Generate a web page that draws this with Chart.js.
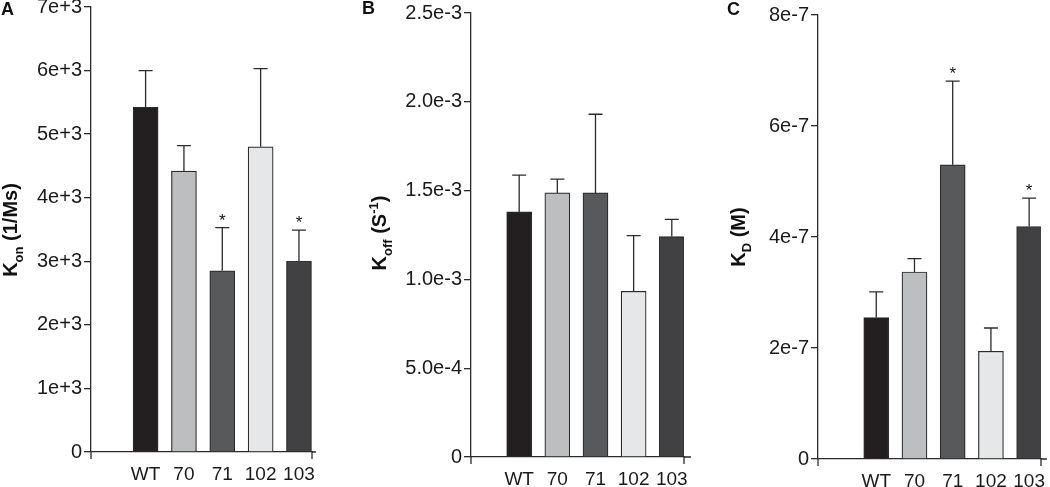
<!DOCTYPE html>
<html>
<head>
<meta charset="utf-8">
<script src="https://cdn.jsdelivr.net/npm/chart.js@4.4.1/dist/chart.umd.min.js"></script>
<style>
  html, body { margin: 0; padding: 0; background: #fff; }
  #wrap { position: relative; width: 1050px; height: 487px; overflow: hidden; }
  .panel { position: absolute; top: 0; width: 350px; height: 487px; }
</style>
</head>
<body>
<div id="wrap">
  <div class="panel" style="left:0"><canvas id="chart-a"></canvas></div>
  <div class="panel" style="left:350px"><canvas id="chart-b"></canvas></div>
  <div class="panel" style="left:700px"><canvas id="chart-c"></canvas></div>
</div>
<script>
(() => {
  "use strict";

  // ── data ───────────────────────────────────────────────────────────────
  const groups = ["WT", "70", "71", "102", "103"];
  const barColors = ["#231f20", "#bcbec0", "#58595b", "#e6e7e8", "#414042"];

  const konMean = [5420, 4420, 2850, 4800, 3000];
  const konSem = [580, 400, 680, 1230, 490];
  const konStar = [false, false, true, false, true];
  const konTicks = [0, 1000, 2000, 3000, 4000, 5000, 6000, 7000];
  const konTickLabels = ["0", "1e+3", "2e+3", "3e+3", "4e+3", "5e+3", "6e+3", "7e+3"];

  const koffMean = [1.38e-3, 1.487e-3, 1.487e-3, 0.933e-3, 1.241e-3];
  const koffSem = [0.207e-3, 0.078e-3, 0.443e-3, 0.314e-3, 0.097e-3];
  const koffStar = [false, false, false, false, false];
  const koffTicks = [0, 5e-4, 1e-3, 1.5e-3, 2e-3, 2.5e-3];
  const koffTickLabels = ["0", "5.0e-4", "1.0e-3", "1.5e-3", "2.0e-3", "2.5e-3"];

  const kdMean = [2.55e-7, 3.37e-7, 5.30e-7, 1.94e-7, 4.19e-7];
  const kdSem = [0.46e-7, 0.24e-7, 1.51e-7, 0.42e-7, 0.51e-7];
  const kdStar = [false, false, true, false, true];
  const kdTicks = [0, 2e-7, 4e-7, 6e-7, 8e-7];
  const kdTickLabels = ["0", "2e-7", "4e-7", "6e-7", "8e-7"];

  const FONT = "'Liberation Sans', Arial, Helvetica, sans-serif";
  const INK = "#2b2b2b";

  // draws text with sub/superscript pieces, rotated to read bottom-to-top
  function drawRotatedRich(ctx, parts, cy, baseX, size) {
    ctx.save();
    ctx.translate(baseX, cy);
    ctx.rotate(-Math.PI / 2);
    ctx.fillStyle = "#111";
    ctx.textBaseline = "alphabetic";
    ctx.textAlign = "left";
    const small = Math.round(size * 0.64);
    let total = 0;
    for (const p of parts) {
      ctx.font = `bold ${p.sub || p.sup ? small : size}px ${FONT}`;
      p.w = ctx.measureText(p.t).width;
      total += p.w;
    }
    let x = -total / 2;
    for (const p of parts) {
      ctx.font = `bold ${p.sub || p.sup ? small : size}px ${FONT}`;
      const dy = p.sub ? size * 0.28 : p.sup ? -size * 0.42 : 0;
      ctx.fillText(p.t, x, dy);
      x += p.w;
    }
    ctx.restore();
  }

  function panelPlugin(cfg) {
    return {
      id: "panelDecor",
      afterDatasetsDraw(chart) {
        const { ctx, chartArea, scales } = chart;
        const xs = scales.x, ys = scales.y;
        ctx.save();
        ctx.strokeStyle = INK;
        ctx.lineWidth = 1.3;

        // error bars (upper only) and significance marks
        cfg.mean.forEach((m, i) => {
          const px = xs.getPixelForValue(i + 1);
          const y0 = ys.getPixelForValue(m);
          const y1 = ys.getPixelForValue(m + cfg.sem[i]);
          ctx.beginPath();
          ctx.moveTo(px, y0);
          ctx.lineTo(px, y1);
          ctx.moveTo(px - 7, y1);
          ctx.lineTo(px + 7, y1);
          ctx.stroke();
          if (cfg.star[i]) {
            ctx.fillStyle = "#111";
            ctx.font = `17px ${FONT}`;
            ctx.textAlign = "center";
            ctx.textBaseline = "alphabetic";
            ctx.fillText("*", px, y1 - 2);
          }
        });

        // end ticks and overhang on the x axis
        const b = chartArea.bottom;
        ctx.beginPath();
        ctx.moveTo(chartArea.left, b);
        ctx.lineTo(chartArea.left, b + 7);
        ctx.moveTo(chartArea.right, b);
        ctx.lineTo(chartArea.right, b + 7);
        ctx.moveTo(chartArea.right, b);
        ctx.lineTo(chartArea.right + cfg.overhang, b);
        ctx.stroke();
        ctx.restore();

        drawRotatedRich(ctx, cfg.title, cfg.titleY, cfg.titleX, 20);

        ctx.save();
        ctx.fillStyle = "#111";
        ctx.font = `bold 18px ${FONT}`;
        ctx.textAlign = "left";
        ctx.textBaseline = "alphabetic";
        ctx.fillText(cfg.letter, cfg.letterX, cfg.letterY);
        ctx.restore();
      },
    };
  }

  function makePanel(id, cfg) {
    const ctx = document.getElementById(id).getContext("2d");
    return new Chart(ctx, {
      type: "bar",
      data: {
        datasets: [{
          data: cfg.mean.map((m, i) => ({ x: i + 1, y: m })),
          backgroundColor: barColors,
          borderColor: INK,
          borderWidth: 1.2,
          barThickness: 25,
        }],
      },
      options: {
        responsive: true,
        maintainAspectRatio: false,
        animation: false,
        events: [],
        layout: { padding: { top: cfg.top, right: cfg.right, left: 0, bottom: 0 } },
        plugins: { legend: { display: false }, tooltip: { enabled: false } },
        scales: {
          x: {
            type: "linear",
            offset: false,
            min: cfg.xMin,
            max: cfg.xMax,
            afterBuildTicks: (s) => { s.ticks = groups.map((g, i) => ({ value: i + 1 })); },
            afterFit: (s) => { s.height = 487 - cfg.bottom; s.paddingLeft = 0; s.paddingRight = 0; },
            grid: { display: false, drawTicks: false },
            border: { display: true, color: INK, width: 1.3 },
            ticks: {
              autoSkip: false,
              maxRotation: 0,
              padding: 11,
              color: "#1a1a1a",
              font: { family: FONT, size: 19 },
              callback: (v, i) => groups[i],
            },
          },
          y: {
            min: 0,
            max: cfg.ticks[cfg.ticks.length - 1],
            afterBuildTicks: (s) => { s.ticks = cfg.ticks.map((v) => ({ value: v })); },
            afterFit: (s) => { s.width = cfg.left; s.paddingTop = 0; s.paddingBottom = 0; },
            grid: { drawOnChartArea: false, drawTicks: true, tickLength: 7, color: INK, lineWidth: 1.3 },
            border: { display: true, color: INK, width: 1.3 },
            ticks: {
              padding: 2,
              color: "#1a1a1a",
              font: { family: FONT, size: 20 },
              callback: (v, i) => cfg.tickLabels[i],
            },
          },
        },
      },
      plugins: [panelPlugin(cfg)],
    });
  }

  makePanel("chart-a", {
    mean: konMean, sem: konSem, star: konStar, ticks: konTicks, tickLabels: konTickLabels,
    left: 91, top: 7, bottom: 452, right: 350 - 312, xMin: -0.424, xMax: 5.34, overhang: 4,
    title: [{ t: "K" }, { t: "on", sub: true }, { t: " (1/Ms)" }], titleX: 17, titleY: 230,
    letter: "A", letterX: 1, letterY: 15,
  });

  makePanel("chart-b", {
    mean: koffMean, sem: koffSem, star: koffStar, ticks: koffTicks, tickLabels: koffTickLabels,
    left: 121, top: 13, bottom: 457, right: 350 - 334, xMin: -0.263, xMax: 5.32, overhang: 7,
    title: [{ t: "K" }, { t: "off", sub: true }, { t: " (S" }, { t: "-1", sup: true }, { t: ")" }],
    titleX: 36, titleY: 233,
    letter: "B", letterX: 12, letterY: 14,
  });

  makePanel("chart-c", {
    mean: kdMean, sem: kdSem, star: kdStar, ticks: kdTicks, tickLabels: kdTickLabels,
    left: 118, top: 15, bottom: 459, right: 350 - 341, xMin: -0.524, xMax: 5.31, overhang: 6,
    title: [{ t: "K" }, { t: "D", sub: true }, { t: " (M)" }], titleX: 45, titleY: 237,
    letter: "C", letterX: 27, letterY: 15,
  });
})();
</script>
</body>
</html>
